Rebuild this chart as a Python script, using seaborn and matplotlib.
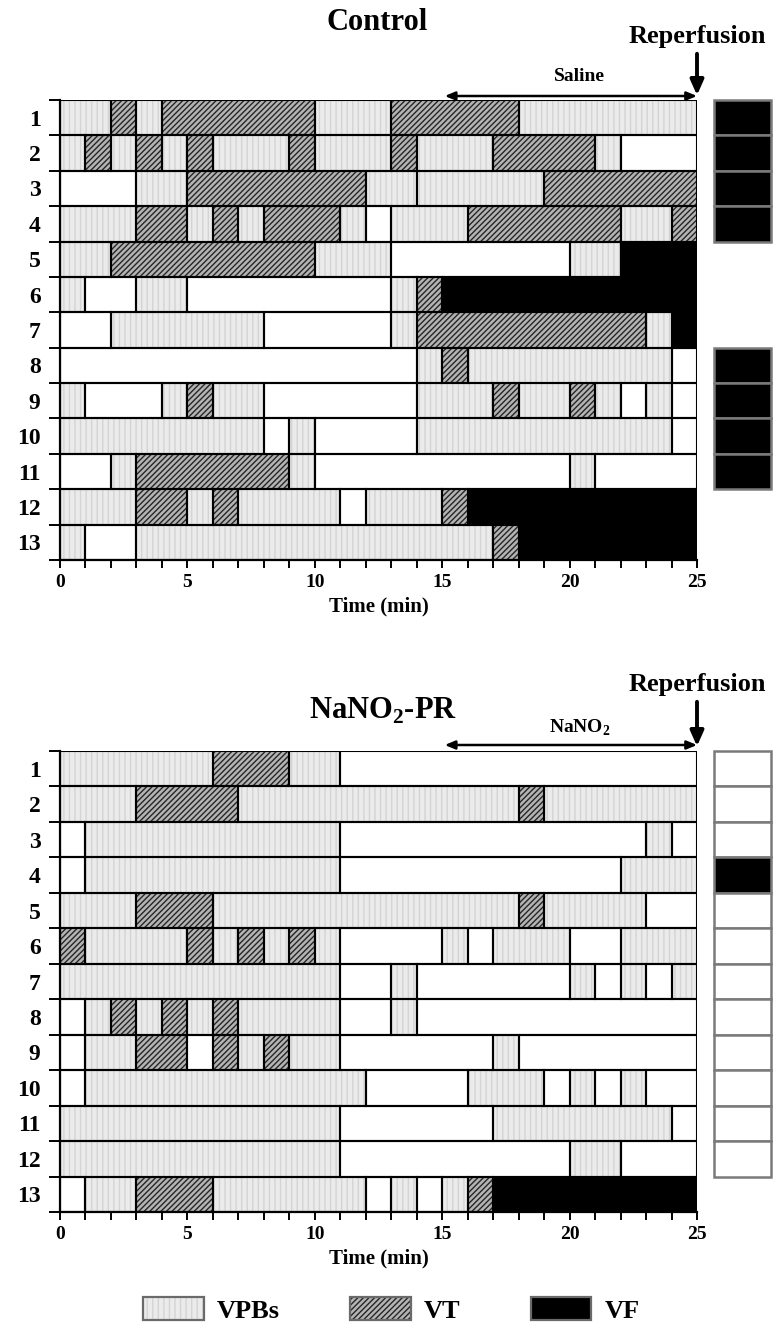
import numpy as np
import pandas as pd
import matplotlib
matplotlib.use("Agg")
import matplotlib.pyplot as plt
import seaborn as sns
from matplotlib.patches import Patch

# ---------------- data ----------------
rows = list(range(1, 14))
# state codes: N = none, P = VPBs, T = VT, F = VF
control_breaks = [
    [0, 2, 3, 4, 10, 13, 18, 25],
    [0, 1, 2, 3, 4, 5, 6, 9, 10, 13, 14, 17, 21, 22, 25],
    [0, 3, 5, 12, 14, 19, 25],
    [0, 3, 5, 6, 7, 8, 11, 12, 13, 16, 22, 24, 25],
    [0, 2, 10, 13, 20, 22, 25],
    [0, 1, 3, 5, 13, 14, 15, 25],
    [0, 2, 8, 13, 14, 23, 24, 25],
    [0, 14, 15, 16, 24, 25],
    [0, 1, 4, 5, 6, 8, 14, 17, 18, 20, 21, 22, 23, 24, 25],
    [0, 8, 9, 10, 14, 24, 25],
    [0, 2, 3, 9, 10, 20, 21, 25],
    [0, 3, 5, 6, 7, 11, 12, 15, 16, 25],
    [0, 1, 3, 17, 18, 25],
]
control_states = [
    "PTPTPTP", "PTPTPTPTPTPTPN", "NPTPPT", "PTPTPTPNPTPT", "PTPNPF",
    "PNPNPTF", "NPNPTPF", "NPTPN", "PNPTPNPTPTPNPN", "PNPNPN",
    "NPTPNPN", "PTPTPNPTF", "PNPTF",
]
control_reperfusion = ["F", "F", "F", "F", "", "", "", "F", "F", "F", "F", "", ""]

nano2_breaks = [
    [0, 6, 9, 11, 25],
    [0, 3, 7, 18, 19, 25],
    [0, 1, 11, 23, 24, 25],
    [0, 1, 11, 22, 25],
    [0, 3, 6, 18, 19, 23, 25],
    [0, 1, 5, 6, 7, 8, 9, 10, 11, 15, 16, 17, 20, 22, 25],
    [0, 11, 13, 14, 20, 21, 22, 23, 24, 25],
    [0, 1, 2, 3, 4, 5, 6, 7, 11, 13, 14, 25],
    [0, 1, 3, 5, 6, 7, 8, 9, 11, 17, 18, 25],
    [0, 1, 12, 16, 19, 20, 21, 22, 23, 25],
    [0, 11, 17, 24, 25],
    [0, 11, 20, 22, 25],
    [0, 1, 3, 6, 12, 13, 14, 15, 16, 17, 25],
]
nano2_states = [
    "PTPN", "PTPTP", "NPNPN", "NPNP", "PTPTPN",
    "TPTPTPTPNPNPNP", "PNPNPNPNP", "NPTPTPTPNPN", "NPTNTPTPNPN", "NPNPNPNPN",
    "PNPN", "PNPN", "NPTPNPNPTF",
]
nano2_reperfusion = ["N", "N", "N", "F", "N", "N", "N", "N", "N", "N", "N", "N", ""]

xticks_major = [0, 5, 10, 15, 20, 25]
legend_labels = ["VPBs", "VT", "VF"]

# ---------------- style ----------------
sns.set_style("white")
plt.rcParams["font.family"] = ["Liberation Serif", "DejaVu Serif"]
plt.rcParams["font.weight"] = "bold"
plt.rcParams["text.color"] = "black"
plt.rcParams["axes.labelcolor"] = "black"
plt.rcParams["xtick.color"] = "black"
plt.rcParams["ytick.color"] = "black"
plt.rcParams["mathtext.fontset"] = "custom"
plt.rcParams["mathtext.rm"] = "Liberation Serif:bold"
plt.rcParams["mathtext.bf"] = "Liberation Serif:bold"
plt.rcParams["hatch.linewidth"] = 1.0

STYLE = {
    "N": dict(fc="white", hatch=None, hc="white"),
    "P": dict(fc="#ebebeb", hatch="|||", hc="#d4d4d4"),
    "T": dict(fc="#b4b4b4", hatch="//////", hc="#262626"),
    "F": dict(fc="black", hatch=None, hc="black"),
}


def to_frame(breaks, states):
    recs = []
    for r, b, s in zip(rows, breaks, states):
        for a, e, c in zip(b[:-1], b[1:], s):
            recs.append(dict(row=r, start=a, width=e - a, state=c))
    return pd.DataFrame(recs)


def draw_panel(ax, df):
    for st, sub in df.groupby("state"):
        sty = STYLE[st]
        ax.barh(sub["row"], sub["width"], left=sub["start"], height=1.0,
                color=sty["fc"], hatch=sty["hatch"], edgecolor=sty["hc"],
                linewidth=0, zorder=2)
        ax.barh(sub["row"], sub["width"], left=sub["start"], height=1.0,
                fill=False, edgecolor="black", linewidth=1.5, zorder=3)
    ax.set_xlim(0, 25)
    ax.set_ylim(13.5, 0.5)
    for sp in ["top", "right"]:
        ax.spines[sp].set_visible(False)
    for sp in ["left", "bottom"]:
        ax.spines[sp].set_linewidth(1.6)
        ax.spines[sp].set_color("black")
    ax.set_yticks(rows)
    ax.set_yticklabels([str(r) for r in rows], fontsize=17, fontweight="bold")
    ax.set_yticks(np.arange(0.5, 14.0, 1.0), minor=True)
    ax.tick_params(axis="y", which="major", length=0, pad=14)
    ax.tick_params(axis="y", which="minor", length=8, width=1.4, direction="out", color="black", left=True)
    ax.set_xticks(xticks_major)
    ax.set_xticklabels([str(t) for t in xticks_major], fontsize=14, fontweight="bold")
    ax.set_xticks(np.arange(0, 26, 1), minor=True)
    ax.tick_params(axis="x", which="both", length=6, width=1.4, direction="out", color="black", bottom=True)
    ax.tick_params(axis="x", which="major", pad=4)
    ax.set_xlabel("Time (min)", fontsize=15, fontweight="bold", labelpad=4)
    ax.set_ylabel("")
    ax.grid(False)


def draw_status(ax, status):
    ax.set_xlim(0, 1)
    ax.set_ylim(13.5, 0.5)
    ax.axis("off")
    for r, s in zip(rows, status):
        if s == "":
            continue
        bars = ax.barh([r], [1], left=0, height=1.0,
                       color="black" if s == "F" else "white",
                       edgecolor="#7a7a7a", linewidth=1.8)
        for p in bars:
            p.set_clip_on(False)


fig = plt.figure(figsize=(7.75, 13.39), dpi=100)
W, H = 775, 1339


def fx(px):
    return px / W


def fy(py):
    return 1 - py / H


ax1 = fig.add_axes([fx(60), fy(560), fx(637), 460 / H])
ax1s = fig.add_axes([fx(714), fy(560), fx(57), 460 / H])
ax2 = fig.add_axes([fx(60), fy(1212), fx(637), 461 / H])
ax2s = fig.add_axes([fx(714), fy(1212), fx(57), 461 / H])

draw_panel(ax1, to_frame(control_breaks, control_states))
draw_panel(ax2, to_frame(nano2_breaks, nano2_states))
draw_status(ax1s, control_reperfusion)
draw_status(ax2s, nano2_reperfusion)

# titles and annotations
fig.text(fx(377), fy(22), "Control", ha="center", va="center", fontsize=22, fontweight="bold")
fig.text(fx(383), fy(711), r"NaNO$_{2}$-PR", ha="center", va="center", fontsize=22, fontweight="bold")

for ax, top_px, bot_px, rep_y, lab_y, arr_y, label in [
    (ax1, 100, 560, 36, 76, 96, "Saline"),
    (ax2, 751, 1212, 684, 728, 745, r"NaNO$_{2}$"),
]:
    h = bot_px - top_px

    def af(py):
        return (bot_px - py) / h

    ax.text(25, af(rep_y), "Reperfusion", transform=ax.get_xaxis_transform(),
            ha="center", va="center", fontsize=19, fontweight="bold", clip_on=False)
    ax.annotate("", xy=(25, af(top_px - 2)), xytext=(25, af(rep_y + 15)),
                xycoords=ax.get_xaxis_transform(), textcoords=ax.get_xaxis_transform(),
                arrowprops=dict(arrowstyle="-|>,head_width=0.4,head_length=0.9", color="black", lw=2.8),
                annotation_clip=False)
    ax.annotate("", xy=(15.1, af(arr_y)), xytext=(25.0, af(arr_y)),
                xycoords=ax.get_xaxis_transform(), textcoords=ax.get_xaxis_transform(),
                arrowprops=dict(arrowstyle="<|-|>,head_width=0.25,head_length=0.6", color="black", lw=1.8,
                                shrinkA=0, shrinkB=0),
                annotation_clip=False)
    ax.text(20.4, af(lab_y), label, transform=ax.get_xaxis_transform(),
            ha="center", va="center", fontsize=14, fontweight="bold", clip_on=False)

# legend
handles = []
for st in ["P", "T", "F"]:
    sty = STYLE[st]
    handles.append((Patch(facecolor=sty["fc"], hatch=sty["hatch"], edgecolor=sty["hc"], linewidth=0),
                    Patch(fill=False, edgecolor="#6a6a6a", linewidth=1.6)))
fig.legend(handles, legend_labels, loc="center", bbox_to_anchor=(0.505, fy(1310)), ncol=3,
           frameon=False, handlelength=2.3, handleheight=0.95, columnspacing=2.65, handletextpad=0.5,
           prop=dict(family="Liberation Serif", weight="bold", size=19))

fig.savefig("out.png", dpi=100)
